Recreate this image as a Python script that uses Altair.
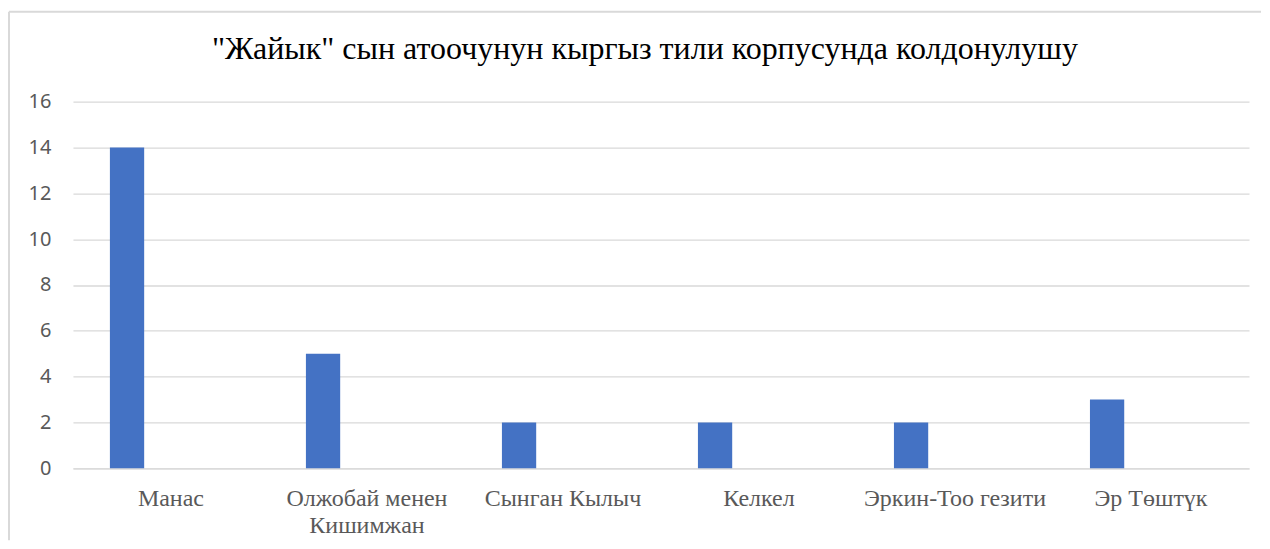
import altair as alt
import pandas as pd

categories = ["Манас", "Олжобай менен Кишимжан", "Сынган Кылыч", "Келкел", "Эркин-Тоо гезити", "Эр Төштүк"]
values = [14, 5, 2, 2, 2, 3]
series = ["Ряд1"] * len(categories)
series_slots = ["Ряд1", "Ряд2", "Ряд3", "Ряд4"]
y_ticks = [0, 2, 4, 6, 8, 10, 12, 14, 16]
title_text = '"Жайык" сын атоочунун кыргыз тили корпусунда колдонулушу'

SERIF = "Liberation Serif, Times New Roman, DejaVu Serif, serif"

df = pd.DataFrame({"cat": categories, "val": values, "series": series})

label_expr = ("datum.value == 'Олжобай менен Кишимжан' ? ['Олжобай менен', 'Кишимжан'] : datum.label")

bars = alt.Chart(df).mark_bar(color="#4472C4").encode(
    x=alt.X("cat:N", sort=categories,
            scale=alt.Scale(paddingInner=0, paddingOuter=0),
            axis=alt.Axis(title=None, labelAngle=0, labelFont=SERIF,
                          labelFontSize=24, labelColor="#595959", labelPadding=18,
                          labelLineHeight=27, labelExpr=label_expr, ticks=False,
                          labelLimit=400, domainColor="#d9d9d9", domainWidth=1.3,
                          grid=False, labelBaseline="top")),
    xOffset=alt.XOffset("series:N", scale=alt.Scale(domain=series_slots, paddingInner=0,
                                                    paddingOuter=0.86, align=0.627)),
    y=alt.Y("val:Q", scale=alt.Scale(domain=[0, 16]),
            axis=alt.Axis(title=None, values=y_ticks, labelFont="Noto Sans",
                          labelFontSize=20, labelColor="#595959", labelPadding=22,
                          ticks=False, domain=False, gridColor="#d9d9d9",
                          gridWidth=1.3)),
)

frame_df = pd.DataFrame({"k": [0]})
left_line = alt.Chart(frame_df).mark_rule(color="#d9d9d9", strokeWidth=2).encode(
    x=alt.value(-64), y=alt.value(-90), y2=alt.value(439)
)
top_line = alt.Chart(frame_df).mark_rule(color="#d9d9d9", strokeWidth=2).encode(
    x=alt.value(-64), x2=alt.value(1189), y=alt.value(-90)
)

chart = alt.layer(bars, left_line, top_line).properties(
    width=1177, height=367,
    padding={"left": 0, "top": 2.5, "right": 0, "bottom": 0},
    title=alt.TitleParams(title_text, font="Liberation Serif", fontSize=32,
                          baseline="alphabetic", fontWeight="normal", color="#000000",
                          dx=-16, offset=-80.5),
).configure_view(stroke=None).configure_title(font="Liberation Serif")

chart.save("out.html", embed_options={"renderer": "svg", "actions": False})
